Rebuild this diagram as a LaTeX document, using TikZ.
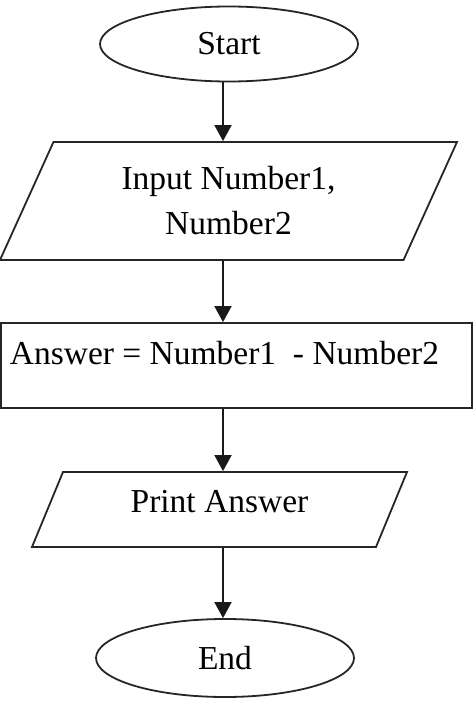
\documentclass[tikz,border=0pt]{standalone}
\usepackage{fontspec}
\setmainfont{Liberation Serif}
\usetikzlibrary{shapes.geometric,arrows.meta}
\begin{document}
\begin{tikzpicture}[x=1pt,y=-1pt,
  every node/.style={font=\fontsize{33.5}{45}\selectfont, text=black},
  shp/.style={draw=black!85, line width=1.8pt, inner sep=0pt},
  term/.style={shp, ellipse},
  io/.style={shp, trapezium, trapezium stretches body},
  proc/.style={shp, rectangle},
  arr/.style={draw=black!90, line width=1.8pt, -{Triangle[width=17pt,length=16pt]}}]
\useasboundingbox (0,0) rectangle (474,704);
\coordinate (ax) at (223,0);
\node[term, minimum width=258pt, minimum height=75pt] (start) at (229,44) {Start};
\node[io, trapezium left angle=52.05, trapezium right angle=127.95,
      minimum width=457pt, minimum height=118pt, align=center] (in) at (228.5,201)
      {Input Number1,\\Number2};
\node[proc, minimum width=471pt, minimum height=85pt, text height=24pt, text depth=7pt] (calc) at (236.5,365.5)
      {\raisebox{10pt}{\hspace*{-12pt}Answer = Number1\ \ - Number2\hspace*{12pt}}};
\node[io, trapezium left angle=45, trapezium right angle=135,
      minimum width=375pt, minimum height=75pt, text height=24pt, text depth=7pt] (out) at (219.5,509.5)
      {\raisebox{6pt}{Print Answer}};
\node[term, minimum width=258pt, minimum height=78pt] (end) at (225,658) {End};
\draw[arr] (start.south -| ax) -- (in.north -| ax);
\draw[arr] (in.south -| ax) -- (calc.north -| ax);
\draw[arr] (calc.south -| ax) -- (out.north -| ax);
\draw[arr] (out.south -| ax) -- (end.north -| ax);
\end{tikzpicture}
\end{document}
